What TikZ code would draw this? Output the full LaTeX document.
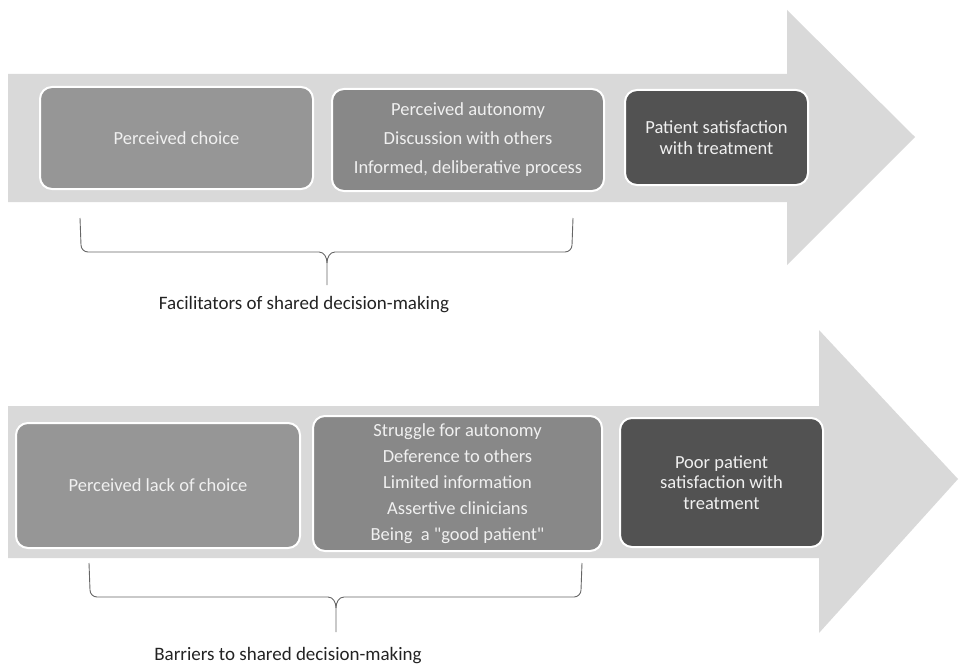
\documentclass[tikz,border=0pt]{standalone}
\usepackage{fontspec}
\setmainfont{Carlito}
\newfontfamily\boxfont{Carlito}
\usepackage{xcolor}
\definecolor{flowgray}{RGB}{217,217,217}
\definecolor{stepgray}{RGB}{150,150,150}
\definecolor{midgray}{RGB}{136,136,136}
\definecolor{outgray}{RGB}{82,82,82}
\definecolor{labelink}{RGB}{35,35,35}
\usetikzlibrary{positioning,calc}
\tikzset{
  flow/.style={fill=flowgray,draw=none},
  stepbox/.style={rectangle,rounded corners=12pt,draw=white,
                  line width=2pt,fill=stepgray,text=white!94!black,
                  align=center,inner sep=0pt,
                  font=\boxfont\fontsize{18.5}{20.5}\selectfont},
  listbox/.style={stepbox,fill=midgray},
  outbox/.style={stepbox,fill=outgray},
  grouplabel/.style={text=labelink,font=\fontsize{19}{22}\selectfont},
  bracket/.style={draw=black!60,line width=0.9pt},
}

\begin{document}
\begin{tikzpicture}[x=1pt,y=-1pt]
  \useasboundingbox (0,0) rectangle (960,666);

  % upper arrow
  \fill[flow] (8,74) -- (787,74) -- (787,10) -- (915,137)
    -- (787,265) -- (787,202) -- (8,202) -- cycle;
  \node[stepbox,minimum width=273pt,minimum height=102pt]
    (choice) at (176.5,138) {Perceived choice};
  \node[listbox,minimum width=272pt,minimum height=102pt,
        font=\boxfont\fontsize{18.5}{29}\selectfont]
    (autonomy) at (468,140)
    {Perceived autonomy\\Discussion with others\\Informed, deliberative process};
  \node[outbox,minimum width=183pt,minimum height=95pt]
    (satisfied) at (716.5,137.5) {Patient satisfaction\\with treatment};

  % brace under the facilitators
  \coordinate (facL) at (80,218);
  \coordinate (facR) at (573,218);
  \coordinate (facTip) at (327,285);
  \draw[bracket] (facL) -- ($(facL)+(1,27)$)
    to[out=-90,in=180] ($(facL)+(8,34)$) -- (319,252)
    to[out=0,in=90] (327,263) -- (facTip);
  \draw[bracket] (facR) -- ($(facR)+(-1,27)$)
    to[out=-90,in=0] ($(facR)+(-8,34)$) -- (335,252)
    to[out=180,in=90] (327,263);
  \node[grouplabel] (facilitators) at (304,305)
    {Facilitators of shared decision-making};

  % lower arrow
  \fill[flow] (8,406) -- (819,406) -- (819,330) -- (958,479)
    -- (819,633) -- (819,558) -- (8,558) -- cycle;
  \node[stepbox,minimum width=284pt,minimum height=125pt]
    (nochoice) at (158,485.5) {Perceived lack of choice};
  \node[listbox,minimum width=289pt,minimum height=135pt,
        font=\boxfont\fontsize{18.5}{26}\selectfont]
    (struggle) at (457.5,483.5)
    {Struggle for autonomy\\Deference to others\\Limited information\\
     Assertive clinicians\\Being\ \ a "good patient"};
  \node[outbox,minimum width=203pt,minimum height=129pt]
    (unsatisfied) at (721.5,482.5) {Poor patient\\satisfaction with\\treatment};

  % brace under the barriers
  \coordinate (barL) at (89,563);
  \coordinate (barR) at (582,563);
  \coordinate (barTip) at (336,632);
  \draw[bracket] (barL) -- ($(barL)+(1,27)$)
    to[out=-90,in=180] ($(barL)+(8,34)$) -- (328,597)
    to[out=0,in=90] (336,608) -- (barTip);
  \draw[bracket] (barR) -- ($(barR)+(-1,27)$)
    to[out=-90,in=0] ($(barR)+(-8,34)$) -- (344,597)
    to[out=180,in=90] (336,608);
  \node[grouplabel] (barriers) at (288,656)
    {Barriers to shared decision-making};
\end{tikzpicture}
\end{document}
